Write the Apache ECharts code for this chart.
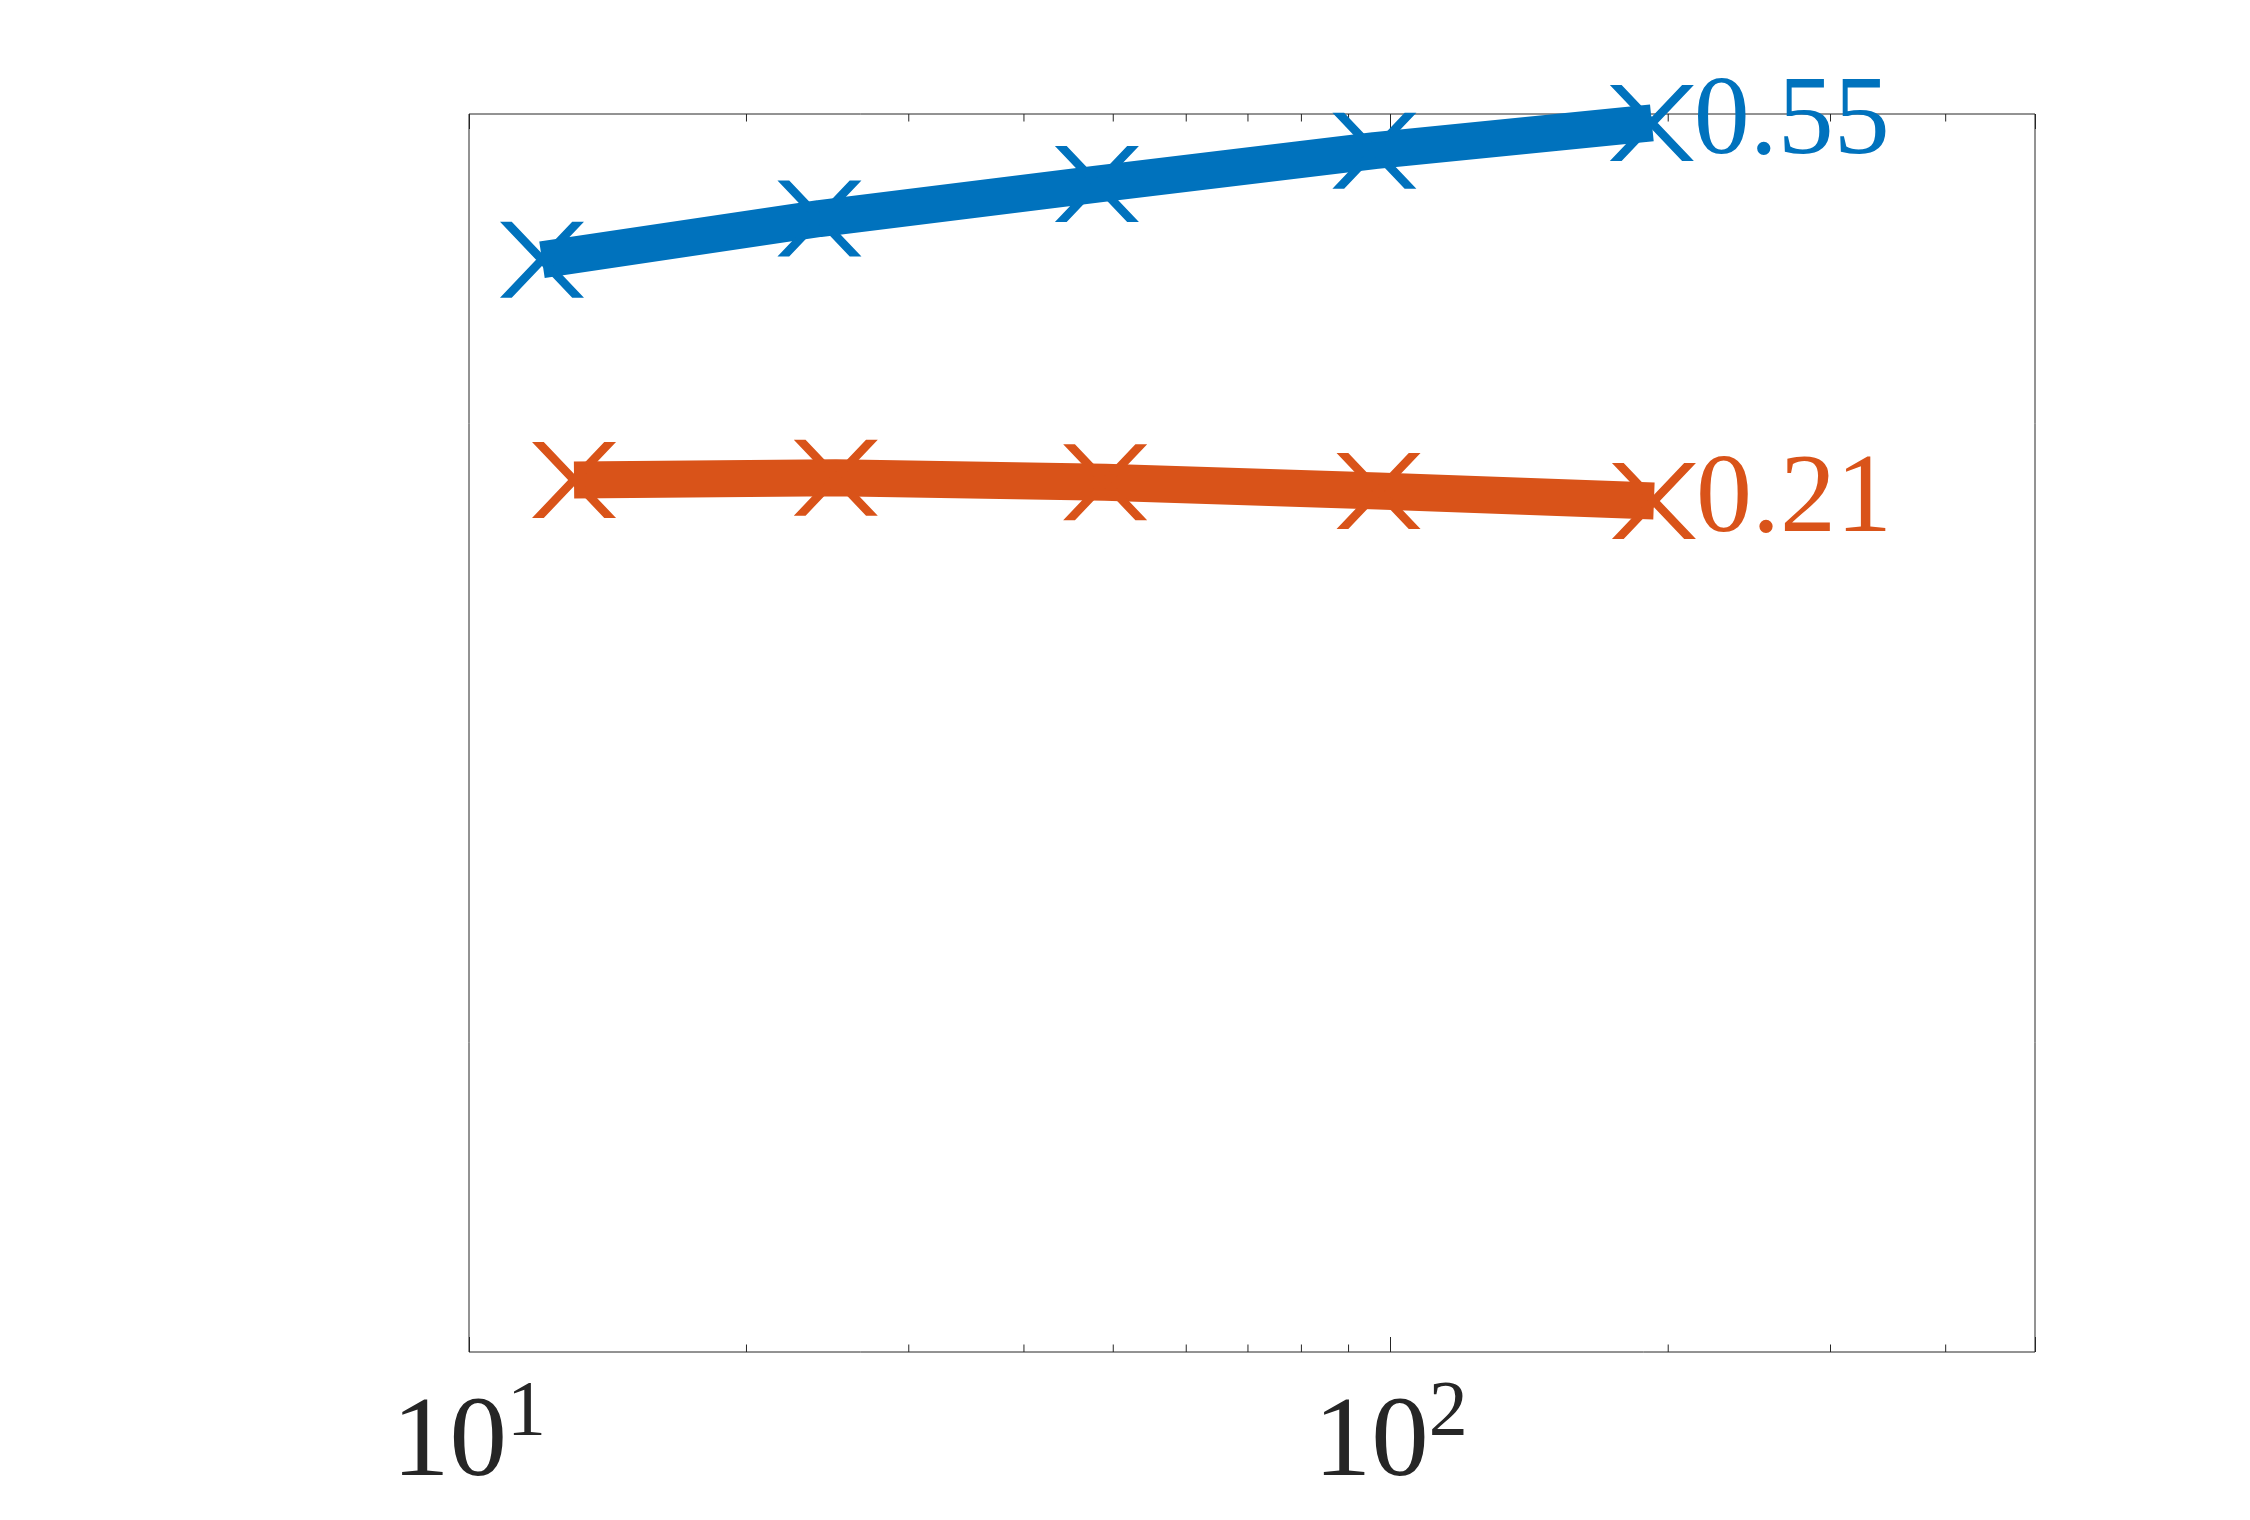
<!DOCTYPE html>
<html>
<head>
<meta charset="utf-8">
<script src="https://cdn.jsdelivr.net/npm/echarts@6/dist/echarts.min.js"></script>
<style>
html,body{margin:0;padding:0;background:#fff;}
#c{width:2250px;height:1520px;}
</style>
</head>
<body>
<div id="c"></div>
<script>
// ---- data ----
const xBlue = [12, 24, 48, 96, 192];
const yBlue = [0.427, 0.464, 0.495, 0.525, 0.55];
const xOrange = [13, 25, 49, 97, 193];
const yOrange = [0.229, 0.231, 0.227, 0.219, 0.21];
const endLabels = ['0.55', '0.21'];
const majorTickValues = [10, 100];
const majorTickBase = ['10', '10'];
const majorTickExp = ['1', '2'];
const minorTickValues = [20, 30, 40, 50, 60, 70, 80, 90, 200, 300, 400];

// ---- style ----
const BLUE = '#0072BD', ORANGE = '#D95319', AX = '#262626';
const FONT = '"Liberation Serif", "DejaVu Serif", serif';
const XMARK = 'path://M0 0L14 0L100 100L86 100Z M86 0L100 0L14 100L0 100Z';

function makeData(xs, ys, label, color) {
  return xs.map((x, i) => {
    const item = { value: [x, ys[i]] };
    if (i === xs.length - 1) {
      item.label = {
        show: true, position: 'right', distance: 0, offset: [0, 1],
        formatter: label, color: color, fontSize: 112, fontFamily: FONT
      };
    }
    return item;
  });
}

function tickLabel(v) {
  for (let i = 0; i < majorTickValues.length; i++) {
    if (Math.abs(v - majorTickValues[i]) / majorTickValues[i] < 1e-6) {
      return '{b|' + majorTickBase[i] + '}{s|' + majorTickExp[i] + '}';
    }
  }
  return '';
}

const chart = echarts.init(document.getElementById('c'), null, { renderer: 'canvas' });
const option = {
  animation: false,
  backgroundColor: '#fff',
  grid: {
    left: 469, top: 114, width: 1566, height: 1238,
    show: true, borderColor: AX, borderWidth: 1, backgroundColor: 'transparent'
  },
  xAxis: [
    {
      type: 'log', logBase: 10, min: 10, max: 500, position: 'bottom',
      axisLine: { show: false, onZero: false },
      axisTick: { show: true, inside: true, length: 15, lineStyle: { color: AX, width: 1 } },
      splitLine: { show: false },
      axisLabel: {
        show: true, margin: 23, formatter: tickLabel,
        rich: {
          b: { fontSize: 115, fontFamily: FONT, color: AX, lineHeight: 140, verticalAlign: 'middle' },
          s: { fontSize: 78, fontFamily: FONT, color: AX, lineHeight: 78, verticalAlign: 'top' }
        }
      }
    },
    {
      type: 'log', logBase: 10, min: 10, max: 500, position: 'top',
      axisLine: { show: false, onZero: false },
      axisTick: { show: true, inside: true, length: 15, lineStyle: { color: AX, width: 1 } },
      splitLine: { show: false },
      axisLabel: { show: false }
    }
  ],
  yAxis: {
    type: 'value', min: -0.555, max: 0.558, show: false,
    splitLine: { show: false }
  },
  series: [
    {
      type: 'custom', xAxisIndex: 0, yAxisIndex: 0, silent: true, z: 1,
      data: minorTickValues.map(v => [v, 0]),
      renderItem: function (params, api) {
        const x = api.coord([api.value(0), 0])[0];
        const cs = params.coordSys;
        const st = { stroke: AX, lineWidth: 1 };
        return {
          type: 'group',
          children: [
            { type: 'line', shape: { x1: x, y1: cs.y + cs.height, x2: x, y2: cs.y + cs.height - 7.5 }, style: st },
            { type: 'line', shape: { x1: x, y1: cs.y, x2: x, y2: cs.y + 7.5 }, style: st }
          ]
        };
      }
    },
    {
      type: 'line', xAxisIndex: 0, yAxisIndex: 0, z: 3, clip: false,
      data: makeData(xBlue, yBlue, endLabels[0], BLUE),
      symbol: XMARK, symbolSize: [84, 76], showSymbol: true,
      lineStyle: { color: BLUE, width: 37, cap: 'butt' },
      itemStyle: { color: BLUE },
      emphasis: { disabled: true }
    },
    {
      type: 'line', xAxisIndex: 0, yAxisIndex: 0, z: 3, clip: false,
      data: makeData(xOrange, yOrange, endLabels[1], ORANGE),
      symbol: XMARK, symbolSize: [84, 76], showSymbol: true,
      lineStyle: { color: ORANGE, width: 37, cap: 'butt' },
      itemStyle: { color: ORANGE },
      emphasis: { disabled: true }
    }
  ]
};
chart.setOption(option);
</script>
</body>
</html>
